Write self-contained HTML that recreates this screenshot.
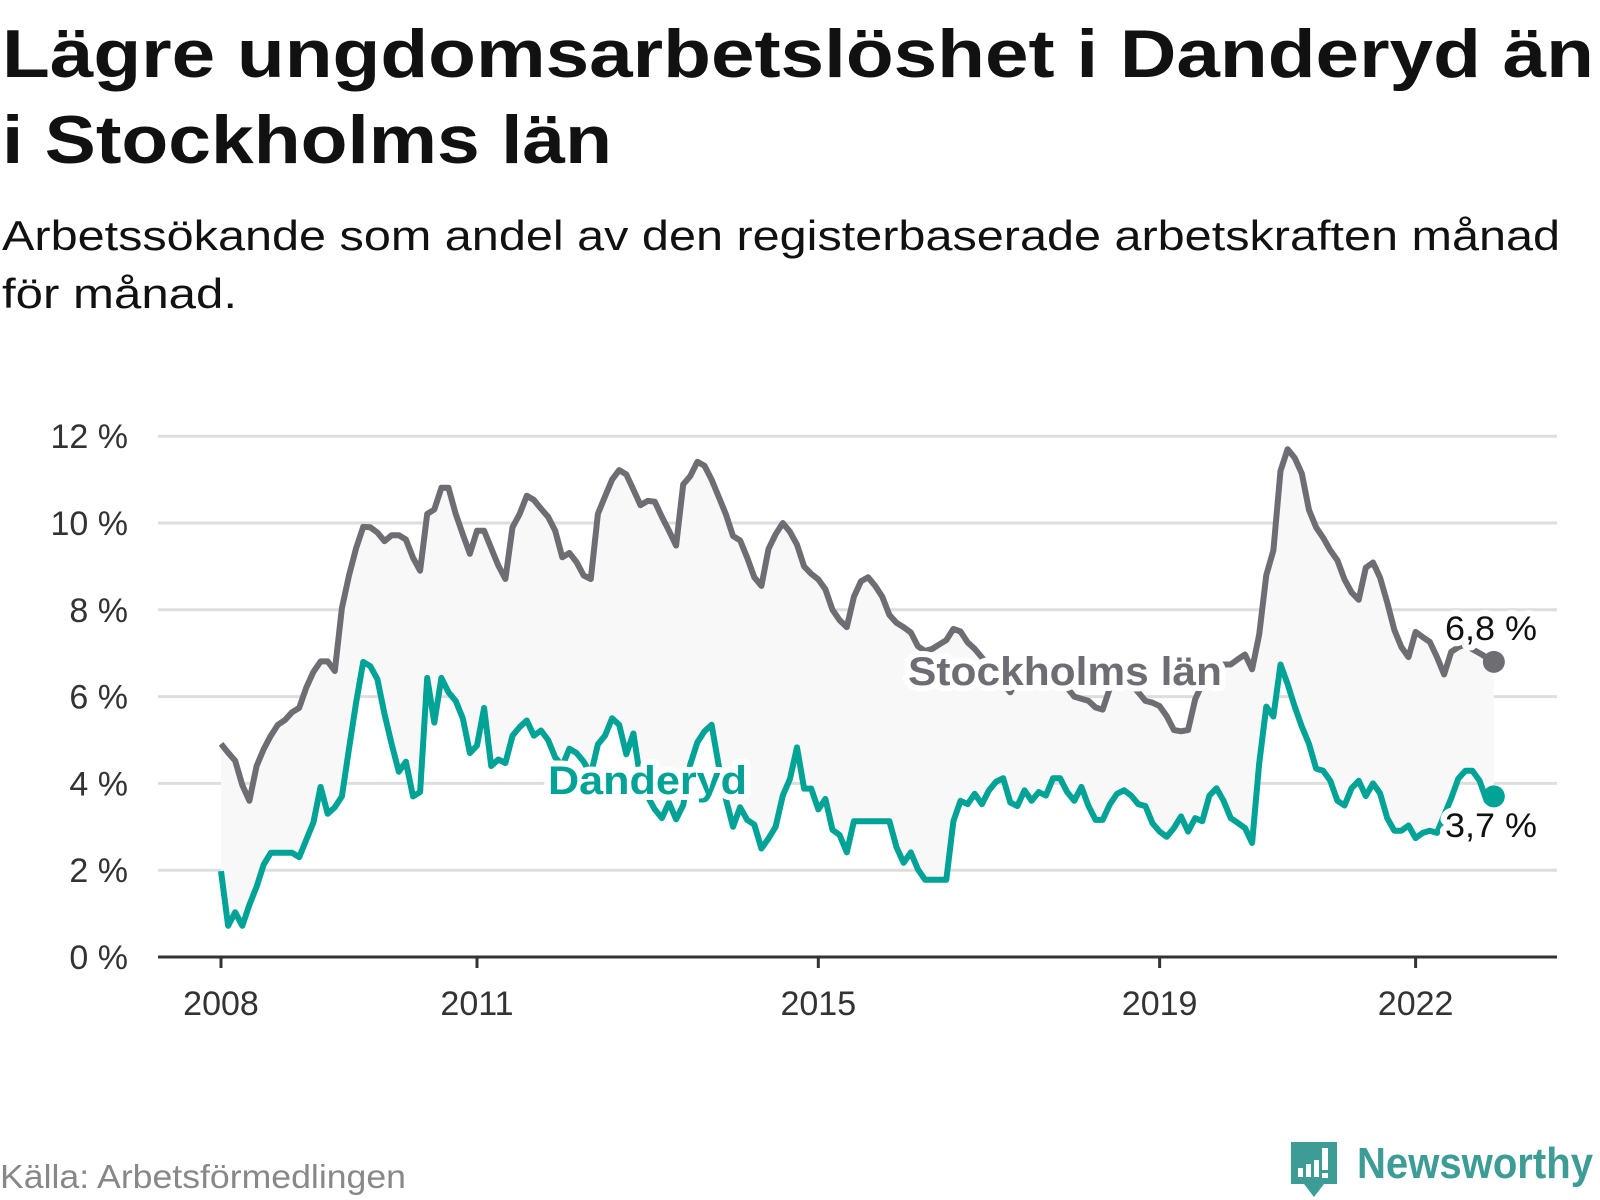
<!DOCTYPE html>
<html><head><meta charset="utf-8"><style>
html,body{margin:0;padding:0;background:#fff;}
svg{display:block;font-family:"Liberation Sans",sans-serif;}
</style></head><body>
<svg id="chart" width="1600" height="1200" viewBox="0 0 1600 1200" xmlns="http://www.w3.org/2000/svg">
<text x="2" y="77" font-size="68" font-weight="bold" fill="#111" textLength="1592" lengthAdjust="spacingAndGlyphs">Lägre ungdomsarbetslöshet i Danderyd än</text>
<text x="2" y="163" font-size="68" font-weight="bold" fill="#111" textLength="610" lengthAdjust="spacingAndGlyphs">i Stockholms län</text>
<text x="2" y="250" font-size="42" fill="#111" textLength="1558" lengthAdjust="spacingAndGlyphs">Arbetssökande som andel av den registerbaserade arbetskraften månad</text>
<text x="2" y="308" font-size="42" fill="#111" textLength="235" lengthAdjust="spacingAndGlyphs">för månad.</text>
<g id="plot"></g>
<text x="0" y="1188" font-size="33" fill="#888" textLength="406" lengthAdjust="spacingAndGlyphs">Källa: Arbetsförmedlingen</text>
<g>
<path d="M1291 1142 h46 v42 h-13 l-10 13 l-10 -13 h-13 z" fill="#3d9c95"/>
<rect x="1298" y="1168" width="5" height="9" fill="#fff"/><rect x="1306" y="1164" width="5" height="13" fill="#fff"/><rect x="1314" y="1160" width="5" height="17" fill="#fff"/><rect x="1322" y="1148" width="6" height="22" fill="#fff"/><rect x="1322" y="1173" width="6" height="5" fill="#fff"/>
<text x="1357" y="1178" font-size="44" font-weight="bold" fill="#3d9c95" textLength="236" lengthAdjust="spacingAndGlyphs">Newsworthy</text>
</g>
</svg>
<script>
const yTicks = [0, 2, 4, 6, 8, 10, 12];
const xTickYears = [2008, 2011, 2015, 2019, 2022];
const stockholm = [4.91,4.71,4.52,3.96,3.6,4.4,4.79,5.1,5.35,5.46,5.64,5.74,6.21,6.57,6.81,6.81,6.59,8.04,8.79,9.42,9.91,9.9,9.78,9.58,9.72,9.72,9.62,9.2,8.9,10.21,10.31,10.81,10.81,10.21,9.74,9.29,9.82,9.82,9.42,9.02,8.71,9.9,10.21,10.63,10.53,10.33,10.14,9.82,9.21,9.31,9.1,8.79,8.71,10.21,10.61,11.0,11.22,11.12,10.77,10.41,10.51,10.49,10.14,9.82,9.48,10.89,11.08,11.41,11.32,11.0,10.6,10.2,9.7,9.6,9.2,8.75,8.55,9.4,9.74,10.0,9.8,9.5,9.0,8.83,8.7,8.47,8.0,7.76,7.6,8.3,8.66,8.75,8.55,8.3,7.88,7.7,7.6,7.48,7.16,7.05,7.1,7.2,7.3,7.56,7.5,7.25,7.1,6.9,6.7,6.5,6.3,6.1,6.4,6.8,7.0,6.8,6.6,6.5,6.4,6.2,6.0,5.95,5.9,5.75,5.7,6.2,6.5,6.5,6.3,6.1,5.9,5.86,5.78,5.55,5.23,5.2,5.23,5.94,6.3,6.5,6.6,6.74,6.74,6.86,6.97,6.63,7.43,8.8,9.37,11.2,11.7,11.5,11.14,10.3,9.9,9.66,9.37,9.14,8.7,8.4,8.23,8.97,9.09,8.74,8.17,7.54,7.14,6.91,7.49,7.37,7.26,6.91,6.51,7.03,7.14,7.2,7.09,7.0,6.9,6.8];
const danderyd = [1.98,0.72,1.03,0.72,1.2,1.62,2.13,2.4,2.4,2.4,2.4,2.3,2.7,3.1,3.92,3.3,3.45,3.7,4.8,5.86,6.8,6.7,6.4,5.6,4.9,4.27,4.5,3.7,3.8,6.43,5.4,6.43,6.1,5.9,5.5,4.7,4.87,5.74,4.4,4.55,4.47,5.1,5.3,5.45,5.1,5.22,5.0,4.6,4.4,4.8,4.7,4.5,4.2,4.9,5.1,5.5,5.35,4.67,5.15,4.1,3.7,3.4,3.2,3.56,3.17,3.5,4.44,4.95,5.2,5.35,4.4,3.64,3.0,3.45,3.16,3.05,2.5,2.73,3.0,3.72,4.1,4.83,3.88,3.88,3.4,3.64,2.93,2.81,2.41,3.13,3.13,3.13,3.13,3.13,3.13,2.53,2.17,2.41,2.02,1.78,1.78,1.78,1.78,3.13,3.6,3.52,3.76,3.52,3.84,4.04,4.12,3.56,3.48,3.84,3.6,3.8,3.72,4.12,4.12,3.8,3.6,3.92,3.48,3.16,3.16,3.52,3.76,3.84,3.72,3.52,3.48,3.08,2.89,2.77,2.97,3.24,2.89,3.2,3.13,3.72,3.89,3.6,3.2,3.09,2.97,2.63,4.46,5.77,5.54,6.74,6.29,5.77,5.31,4.91,4.34,4.29,4.06,3.6,3.49,3.89,4.06,3.71,4.0,3.77,3.2,2.91,2.91,3.03,2.74,2.86,2.91,2.86,3.26,3.66,4.11,4.29,4.29,4.06,3.6,3.7];
const lastLabels = ["6,8 %", "3,7 %"];

const NS = "http://www.w3.org/2000/svg";
const plot = document.getElementById('plot');
const X0 = 221, PXM = 85.33 / 12, Y0 = 957, PXV = 43.4;
const xScale = m => X0 + m * PXM;
const yScale = v => Y0 - v * PXV;
function mk(tag, attrs) { const e = document.createElementNS(NS, tag); for (const k in attrs) e.setAttribute(k, attrs[k]); plot.appendChild(e); return e; }

yTicks.forEach(t => {
  if (t > 0) {
    const g = mk('line', {x1: 158, x2: 1557, y1: yScale(t), y2: yScale(t), stroke: '#dedede', 'stroke-width': 3});
    
    
  }
  const l = mk('text', {x: 128, y: yScale(t) + 12, 'font-size': 34, fill: '#333', 'text-anchor': 'end'});
  l.textContent = t + ' %';
  
  
});

let band = '';
stockholm.forEach((v, i) => band += (i ? 'L' : 'M') + xScale(i) + ' ' + yScale(v));
for (let i = danderyd.length - 1; i >= 0; i--) band += 'L' + xScale(i) + ' ' + yScale(danderyd[i]);
const b = mk('path', {d: band + 'Z', fill: '#f8f8f8'});



const ax = mk('line', {x1: 158, x2: 1557, y1: Y0, y2: Y0, stroke: '#333', 'stroke-width': 3});


xTickYears.forEach(yr => {
  const x = xScale((yr - 2008) * 12);
  const t = mk('line', {x1: x, x2: x, y1: Y0, y2: Y0 + 11, stroke: '#333', 'stroke-width': 3});
  
  
  const l = mk('text', {x: x, y: 1015, 'font-size': 34, fill: '#333', 'text-anchor': 'middle'});
  l.textContent = yr;
  
  
});

function line(data, color, name) {
  let d = '';
  data.forEach((v, i) => d += (i ? 'L' : 'M') + xScale(i).toFixed(1) + ' ' + yScale(v).toFixed(1));
  const p = mk('path', {d: d, fill: 'none', stroke: color, 'stroke-width': 6, 'stroke-linejoin': 'round'});
  
  
}
line(stockholm, '#6e6d73', 'stockholm-line');
line(danderyd, '#00a396', 'danderyd-line');

function label(txt, x, y, color, size, bold, name, len) {
  const extra = len ? {textLength: len, lengthAdjust: 'spacingAndGlyphs'} : {};
  const h = mk('text', Object.assign({x: x, y: y, 'font-size': size, 'font-weight': bold ? 'bold' : 'normal', fill: '#fff', stroke: '#fff', 'stroke-width': 12, 'stroke-linejoin': 'round'}, extra));
  h.textContent = txt;
  
  
  const t = mk('text', Object.assign({x: x, y: y, 'font-size': size, 'font-weight': bold ? 'bold' : 'normal', fill: color}, extra));
  t.textContent = txt;
  
  
}
label('Stockholms län', 908, 685, '#6e6d73', 40, true, 'stockholm-label', 314);
label('Danderyd', 548, 794, '#00a396', 40, true, 'danderyd-label', 199);

const li = stockholm.length - 1;
const d1 = mk('circle', {cx: xScale(li), cy: yScale(stockholm[li]), r: 11, fill: '#6e6d73'});


const d2 = mk('circle', {cx: xScale(danderyd.length - 1), cy: yScale(danderyd[danderyd.length - 1]), r: 11, fill: '#00a396'});


label(lastLabels[0], 1445, 640, '#111', 34, false, 'stockholm-end-value', 92);
label(lastLabels[1], 1445, 837, '#111', 34, false, 'danderyd-end-value', 92);
</script>
</body></html>
